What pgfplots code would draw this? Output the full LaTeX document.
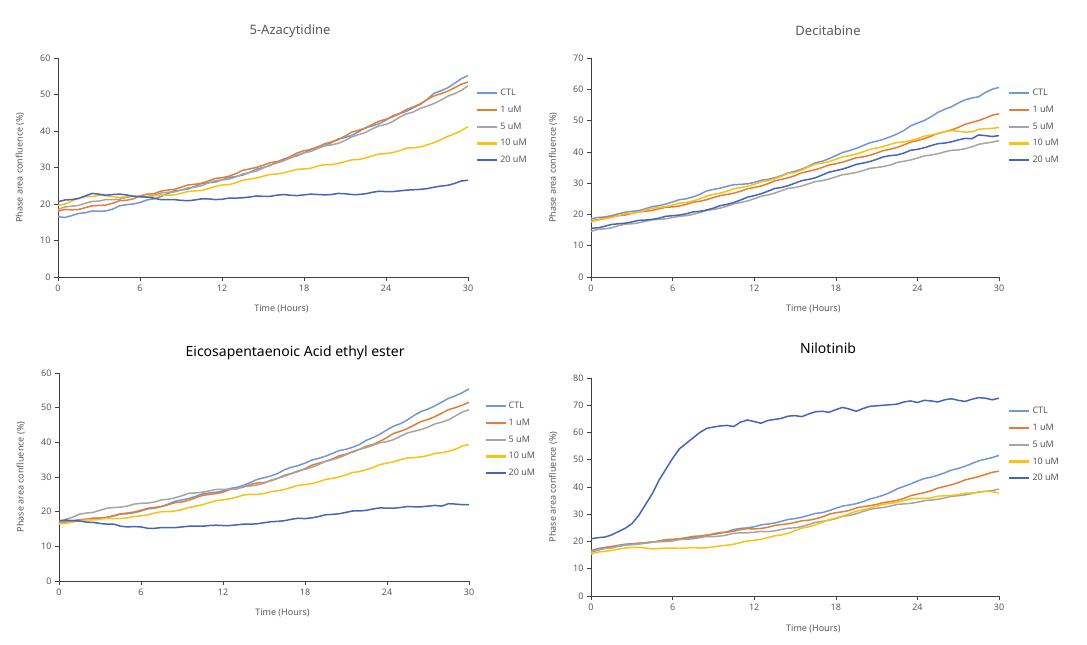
\documentclass[border=0pt]{standalone}
\usepackage{pgfplots}
\pgfplotsset{compat=1.18}
\usepackage{pgfplotstable}
\usepackage{fontspec}
\setmainfont{Noto Sans}
\definecolor{cctl}{RGB}{112,151,214}
\definecolor{cone}{RGB}{230,125,52}
\definecolor{cfive}{RGB}{165,165,165}
\definecolor{cten}{RGB}{250,192,20}
\definecolor{ctwenty}{RGB}{68,101,184}
\definecolor{txtgray}{RGB}{89,89,89}

\pgfplotstableread{
t ctl u1 u5 u10 u20
0 16.5 18.0 18.5 19.6 20.6
0.5 16.3 18.5 19.2 20.0 21.1
1 16.8 18.4 19.4 20.8 21.2
1.5 17.4 18.5 19.6 21.6 21.5
2 17.6 19.0 20.2 22.0 22.2
2.5 18.1 19.5 20.7 22.0 22.9
3 18.0 19.6 20.8 22.4 22.7
3.5 18.1 19.7 21.2 22.3 22.4
4 18.6 20.2 21.2 22.0 22.6
4.5 19.5 20.9 21.3 21.8 22.7
5 19.8 21.0 21.8 22.0 22.5
5.5 20.0 21.4 22.2 22.2 22.1
6 20.4 22.2 22.0 22.0 22.0
6.5 21.1 22.7 22.0 21.9 21.9
7 21.4 22.8 22.4 22.2 21.6
7.5 22.0 23.5 23.0 22.5 21.2
8 22.8 23.8 23.2 22.4 21.2
8.5 23.6 24.0 23.3 22.5 21.2
9 23.8 24.6 23.8 22.9 21.0
9.5 24.1 25.2 24.4 23.4 20.9
10 24.8 25.4 24.6 23.6 21.1
10.5 25.6 25.7 25.0 23.7 21.4
11 25.8 26.3 25.8 24.2 21.4
11.5 26.0 27.0 26.4 24.8 21.2
12 26.6 27.2 26.6 25.2 21.3
12.5 27.3 27.6 26.8 25.3 21.6
13 27.5 28.3 27.4 25.8 21.6
13.5 27.9 29.2 28.2 26.5 21.7
14 28.6 29.6 28.6 26.8 21.9
14.5 29.5 30.0 29.0 27.1 22.2
15 30.0 30.6 29.8 27.6 22.1
15.5 30.5 31.3 30.7 28.1 22.1
16 31.4 31.6 31.2 28.2 22.4
16.5 32.3 32.1 31.8 28.5 22.6
17 32.8 33.0 32.6 29.0 22.4
17.5 33.2 34.0 33.5 29.5 22.3
18 34.0 34.6 34.0 29.6 22.5
18.5 35.0 34.9 34.4 29.8 22.7
19 35.6 35.6 35.2 30.4 22.6
19.5 36.0 36.5 35.9 30.8 22.5
20 36.8 37.0 36.2 30.8 22.6
20.5 37.8 37.6 36.6 31.1 22.9
21 38.2 38.6 37.4 31.6 22.8
21.5 38.8 39.7 38.4 32.1 22.6
22 39.8 40.2 39.0 32.2 22.6
22.5 40.9 40.8 39.6 32.6 22.8
23 41.4 41.8 40.6 33.2 23.2
23.5 42.0 42.7 41.4 33.7 23.5
24 43.0 43.2 41.8 33.8 23.4
24.5 44.2 43.9 42.6 34.1 23.4
25 44.8 44.8 43.8 34.6 23.6
25.5 45.4 45.9 44.7 35.3 23.8
26 46.4 46.6 45.2 35.4 23.9
26.5 47.3 47.4 46.2 35.6 24.0
27 48.6 48.6 46.8 36.2 24.2
27.5 50.3 49.6 47.5 36.8 24.6
28 51.0 50.2 48.4 37.6 24.9
28.5 51.8 50.9 49.5 38.5 25.1
29 53.0 51.8 50.2 39.2 25.6
29.5 54.3 52.8 51.1 40.1 26.3
30 55.2 53.4 52.4 41.2 26.5
}\tabA

\pgfplotstableread{
t ctl u1 u5 u10 u20
0 18.6 18.0 14.6 17.6 15.6
0.5 19.0 18.3 15.2 18.2 15.7
1 19.2 18.8 15.4 18.6 16.2
1.5 19.6 19.4 15.7 19.0 16.8
2 20.2 19.6 16.4 19.6 17.0
2.5 20.7 19.8 16.9 20.2 17.2
3 21.0 20.3 17.0 20.4 17.6
3.5 21.2 20.8 17.3 20.7 18.1
4 21.8 21.0 17.8 21.4 18.2
4.5 22.5 21.3 18.3 22.0 18.4
5 22.8 21.8 18.4 22.2 18.8
5.5 23.3 22.3 18.6 22.5 19.4
6 24.0 22.4 19.0 23.0 19.6
6.5 24.7 22.7 19.4 23.6 19.8
7 25.0 23.2 19.6 23.8 20.2
7.5 25.6 23.9 20.0 24.3 20.8
8 26.4 24.2 20.6 25.0 21.0
8.5 27.5 24.7 21.3 25.9 21.4
9 28.0 25.4 21.6 26.4 22.0
9.5 28.4 26.0 22.0 26.8 22.8
10 29.0 26.4 22.6 27.4 23.2
10.5 29.5 26.8 23.4 28.2 23.8
11 29.6 27.4 23.8 28.6 24.6
11.5 29.8 28.2 24.3 29.0 25.5
12 30.2 28.6 25.0 29.6 26.0
12.5 30.9 29.1 25.8 30.4 26.6
13 31.2 29.8 26.2 30.8 27.4
13.5 31.7 30.7 26.8 31.4 28.3
14 32.4 31.2 27.6 32.2 28.6
14.5 33.3 31.7 28.3 33.1 29.2
15 33.8 32.4 28.6 33.4 30.0
15.5 34.5 33.3 29.1 34.2 30.8
16 35.4 33.8 29.8 35.2 31.2
16.5 36.5 34.3 30.5 36.1 31.7
17 37.0 35.0 30.8 36.4 32.6
17.5 37.8 35.8 31.3 36.9 33.5
18 38.8 36.2 32.0 37.6 34.0
18.5 39.8 36.7 32.7 38.4 34.5
19 40.4 37.4 33.0 38.8 35.2
19.5 41.1 38.1 33.4 39.3 36.0
20 42.0 38.4 34.0 40.0 36.4
20.5 42.9 38.9 34.7 40.8 36.9
21 43.4 39.6 35.0 41.2 37.6
21.5 44.0 40.4 35.3 41.7 38.4
22 44.8 40.8 35.8 42.4 38.8
22.5 45.7 41.4 36.6 43.0 39.0
23 46.8 42.2 37.0 43.2 39.6
23.5 48.3 43.1 37.4 43.6 40.5
24 49.2 43.6 38.0 44.2 40.8
24.5 50.0 44.2 38.7 45.0 41.3
25 51.2 45.0 39.0 45.4 42.0
25.5 52.6 45.9 39.4 45.8 42.6
26 53.6 46.4 40.0 46.4 42.8
26.5 54.4 47.0 40.5 46.8 43.2
27 55.6 47.8 40.6 46.6 43.8
27.5 56.6 48.8 41.0 46.3 44.3
28 57.2 49.4 41.6 46.4 44.2
28.5 57.6 50.0 42.4 47.2 45.4
29 59.0 50.8 42.8 47.4 45.2
29.5 60.0 51.7 43.1 47.5 44.9
30 60.6 52.2 43.6 47.8 45.2
}\tabB

\pgfplotstableread{
t ctl u1 u5 u10 u20
0 17.0 16.8 16.5 16.5 17.4
0.5 17.0 17.3 17.8 16.6 17.6
1 17.4 17.4 18.4 17.0 17.4
1.5 17.7 17.5 19.3 17.4 17.3
2 17.8 17.8 19.6 17.6 17.0
2.5 18.1 18.1 19.8 17.6 16.9
3 18.2 18.0 20.4 17.8 16.6
3.5 18.4 18.3 21.0 18.1 16.4
4 18.8 18.8 21.2 18.0 16.4
4.5 19.3 19.4 21.3 18.0 15.8
5 19.4 19.6 21.6 18.2 15.6
5.5 19.7 19.9 22.2 18.6 15.7
6 20.2 20.4 22.4 18.8 15.6
6.5 20.8 21.0 22.5 19.1 15.2
7 21.0 21.2 22.8 19.6 15.2
7.5 21.5 21.5 23.4 20.0 15.4
8 22.2 22.0 23.6 20.0 15.4
8.5 23.0 22.6 24.0 20.2 15.4
9 23.4 22.8 24.6 20.6 15.6
9.5 23.8 23.3 25.3 21.2 15.8
10 24.4 24.0 25.4 21.6 15.8
10.5 25.1 24.7 25.6 22.0 15.8
11 25.4 25.0 26.0 22.6 16.0
11.5 25.6 25.2 26.4 23.2 16.1
12 26.0 25.6 26.4 23.4 16.0
12.5 26.7 26.4 26.4 23.7 16.0
13 27.0 26.6 26.6 24.2 16.2
13.5 27.6 27.1 27.3 24.8 16.4
14 28.4 27.8 27.4 25.0 16.4
14.5 29.3 28.3 27.7 25.0 16.5
15 29.8 28.4 28.2 25.2 16.8
15.5 30.3 28.9 29.1 25.8 17.1
16 31.0 29.6 29.6 26.0 17.2
16.5 32.1 30.5 30.2 26.4 17.4
17 32.8 31.0 31.0 27.0 17.8
17.5 33.3 31.6 31.8 27.6 18.1
18 34.0 32.4 32.2 27.8 18.0
18.5 34.9 33.4 32.8 28.1 18.2
19 35.4 34.0 33.6 28.6 18.6
19.5 36.0 34.5 34.5 29.3 19.1
20 36.8 35.2 35.0 29.6 19.2
20.5 37.6 36.1 35.6 30.0 19.4
21 38.0 36.6 36.4 30.6 19.8
21.5 38.6 37.2 37.4 31.3 20.2
22 39.4 38.0 38.0 31.6 20.2
22.5 40.6 38.9 38.5 32.1 20.4
23 41.4 39.4 39.2 32.8 20.8
23.5 42.4 40.3 39.9 33.6 21.1
24 43.6 41.4 40.2 34.0 21.0
24.5 44.7 42.6 40.8 34.4 21.0
25 45.4 43.2 41.8 35.0 21.2
25.5 46.5 44.0 42.7 35.5 21.5
26 47.8 45.0 43.2 35.6 21.4
26.5 48.9 46.0 43.7 35.8 21.4
27 49.6 46.6 44.4 36.2 21.6
27.5 50.5 47.4 45.3 36.8 21.8
28 51.6 48.4 45.8 37.0 21.6
28.5 52.7 49.4 46.5 37.4 22.3
29 53.4 50.0 47.6 38.0 22.2
29.5 54.3 50.7 48.7 38.9 22.0
30 55.4 51.6 49.4 39.4 22.0
}\tabC

\pgfplotstableread{
t ctl u1 u5 u10
0 16.6 16.4 16.0 15.4
0.5 17.4 16.8 16.9 16.1
1 17.8 17.6 17.4 16.4
1.5 18.1 18.2 17.6 16.7
2 18.6 18.4 18.2 17.2
2.5 19.0 18.6 18.7 17.6
3 19.2 19.0 18.8 17.8
3.5 19.3 19.4 19.0 17.9
4 19.6 19.4 19.4 17.6
4.5 19.9 19.7 19.8 17.3
5 20.0 20.2 20.0 17.4
5.5 20.2 20.7 20.0 17.6
6 20.6 20.8 20.2 17.6
6.5 21.0 21.0 20.7 17.5
7 21.2 21.4 20.8 17.6
7.5 21.4 21.9 21.0 17.8
8 21.8 22.0 21.4 17.6
8.5 22.3 22.3 21.8 17.7
9 22.6 22.8 21.8 18.0
9.5 23.0 23.3 22.0 18.4
10 23.6 23.4 22.4 18.6
10.5 24.4 23.8 23.0 19.0
11 24.8 24.4 23.2 19.6
11.5 25.0 24.7 23.2 20.2
12 25.4 24.6 23.4 20.4
12.5 26.1 24.8 23.7 20.8
13 26.4 25.2 23.6 21.4
13.5 26.8 25.9 23.9 22.1
14 27.4 26.2 24.4 22.4
14.5 28.1 26.5 24.9 23.0
15 28.4 27.0 25.0 24.0
15.5 28.9 27.6 25.5 24.9
16 29.6 27.8 26.2 25.4
16.5 30.3 28.3 27.0 26.1
17 30.6 29.0 27.4 27.0
17.5 31.3 30.0 27.8 28.0
18 32.2 30.6 28.4 28.6
18.5 33.0 30.9 29.2 29.3
19 33.4 31.4 29.6 30.2
19.5 33.9 32.3 30.2 31.1
20 34.6 32.8 31.0 31.6
20.5 35.6 33.1 31.8 32.2
21 36.2 33.6 32.2 33.0
21.5 37.0 34.3 32.5 33.7
22 38.0 34.6 33.0 34.0
22.5 39.3 35.1 33.6 34.4
23 40.2 35.8 33.8 35.0
23.5 41.1 36.8 34.0 35.6
24 42.2 37.4 34.4 35.8
24.5 43.1 37.9 35.0 35.8
25 43.6 38.6 35.2 36.0
25.5 44.3 39.6 35.5 36.6
26 45.2 40.2 36.0 36.8
26.5 46.2 40.8 36.6 36.9
27 46.8 41.6 36.8 37.2
27.5 47.6 42.6 37.1 37.7
28 48.6 43.2 37.6 37.8
28.5 49.6 43.8 38.2 38.0
29 50.2 44.6 38.4 38.4
29.5 50.8 45.4 38.7 38.3
30 51.6 45.8 39.2 37.8
}\tabD

\pgfplotstableread{
t u20
0 21.0
0.5 21.4
1 21.6
1.5 22.4
2 23.6
2.5 24.8
3 26.5
3.5 29.5
4 33.5
4.5 37.5
5 42.5
5.5 46.5
6 50.5
6.5 54.0
7 56.0
7.5 58.0
8 60.0
8.5 61.5
9 62.0
9.5 62.4
10 62.6
10.5 62.2
11 63.8
11.5 64.6
12 64.0
12.5 63.4
13 64.4
13.5 64.8
14 65.2
14.5 66.0
15 66.2
15.5 65.8
16 66.8
16.5 67.6
17 67.8
17.5 67.4
18 68.4
18.5 69.2
19 68.6
19.5 67.8
20 68.8
20.5 69.6
21 69.8
21.5 70.0
22 70.2
22.5 70.4
23 71.2
23.5 71.6
24 71.0
24.5 71.8
25 71.6
25.5 71.2
26 72.0
26.5 72.4
27 71.8
27.5 71.4
28 72.2
28.5 72.8
29 72.6
29.5 72.0
30 72.6
}\tabDtw

\pgfplotsset{
  every axis title shift=0pt,
  panel/.style={
    scale only axis,
    xmin=0, xmax=30, ymin=0,
    xtick={0,6,...,30},
    axis x line*=bottom, axis y line*=left,
    axis line style={draw=black!75, line width=0.8pt, -},
    tick style={draw=black!75, line width=0.6pt},
    tick align=outside, major tick length=4pt,
    ticklabel style={font=\fontsize{9}{10}\selectfont, text=txtgray},
    /pgf/number format/assume math mode=true,
    xlabel={Time (Hours)},
    ylabel={Phase area confluence (\%)},
    label style={font=\fontsize{9}{10}\selectfont, text=txtgray},
    every axis plot/.append style={line width=1.5pt, no marks},
    legend cell align=left,
    legend image code/.code={\draw[#1, line width=2.2pt] (0pt,0pt) -- (20pt,0pt);},
    clip=false,
  }
}

\begin{document}
\begin{tikzpicture}
\useasboundingbox (0,0) rectangle (1087pt,645pt);

% Panel 1
\begin{axis}[panel, at={(58pt,368pt)}, anchor=south west, width=410pt, height=219pt,
  ymax=60, ytick={0,10,...,60},
  title={5-Azacytidine},
  title style={at={(axis description cs:0.566,1.125)}, anchor=center, font=\fontsize{13}{14}\selectfont, text=txtgray},
  xlabel style={at={(axis description cs:0.545,-0.146)}, anchor=center},
  ylabel style={at={(axis description cs:-0.093,0.5)}, anchor=center},
  legend style={at={(axis description cs:1.012,0.877)}, anchor=north west, draw=none, fill=none,
    font=\fontsize{9}{10}\selectfont, text=txtgray, row sep=4.8pt}]
\addplot[cctl] table[x=t,y=ctl]{\tabA};
\addplot[cone] table[x=t,y=u1]{\tabA};
\addplot[cfive] table[x=t,y=u5]{\tabA};
\addplot[cten] table[x=t,y=u10]{\tabA};
\addplot[ctwenty] table[x=t,y=u20]{\tabA};
\legend{CTL,1 uM,5 uM,10 uM,20 uM}
\end{axis}

% Panel 2
\begin{axis}[panel, at={(591pt,368pt)}, anchor=south west, width=408pt, height=219pt,
  ymax=70, ytick={0,10,...,70},
  title={Decitabine},
  title style={at={(axis description cs:0.581,1.125)}, anchor=center, font=\fontsize{13}{14}\selectfont, text=txtgray},
  xlabel style={at={(axis description cs:0.545,-0.146)}, anchor=center},
  ylabel style={at={(axis description cs:-0.093,0.5)}, anchor=center},
  legend style={at={(axis description cs:1.015,0.877)}, anchor=north west, draw=none, fill=none,
    font=\fontsize{9}{10}\selectfont, text=txtgray, row sep=4.8pt}]
\addplot[cctl] table[x=t,y=ctl]{\tabB};
\addplot[cone] table[x=t,y=u1]{\tabB};
\addplot[cfive] table[x=t,y=u5]{\tabB};
\addplot[cten] table[x=t,y=u10]{\tabB};
\addplot[ctwenty] table[x=t,y=u20]{\tabB};
\legend{CTL,1 uM,5 uM,10 uM,20 uM}
\end{axis}

% Panel 3
\begin{axis}[panel, at={(59pt,64pt)}, anchor=south west, width=410pt, height=208pt,
  ymax=60, ytick={0,10,...,60},
  title={Eicosapentaenoic Acid ethyl ester},
  title style={at={(axis description cs:0.576,1.096)}, anchor=center, font=\fontsize{14}{15}\selectfont, text=black},
  xlabel style={at={(axis description cs:0.545,-0.154)}, anchor=center},
  ylabel style={at={(axis description cs:-0.093,0.5)}, anchor=center},
  legend style={at={(axis description cs:1.03,0.88)}, anchor=north west, draw=none, fill=none,
    font=\fontsize{9}{10}\selectfont, text=txtgray, row sep=4.8pt}]
\addplot[cctl] table[x=t,y=ctl]{\tabC};
\addplot[cone] table[x=t,y=u1]{\tabC};
\addplot[cfive] table[x=t,y=u5]{\tabC};
\addplot[cten] table[x=t,y=u10]{\tabC};
\addplot[ctwenty] table[x=t,y=u20]{\tabC};
\legend{CTL,1 uM,5 uM,10 uM,20 uM}
\end{axis}

% Panel 4
\begin{axis}[panel, at={(591pt,49pt)}, anchor=south west, width=408pt, height=218pt,
  ymax=80, ytick={0,10,...,80},
  title={Nilotinib},
  title style={at={(axis description cs:0.581,1.138)}, anchor=center, font=\fontsize{14}{15}\selectfont, text=black},
  xlabel style={at={(axis description cs:0.545,-0.151)}, anchor=center},
  ylabel style={at={(axis description cs:-0.093,0.5)}, anchor=center},
  legend style={at={(axis description cs:1.015,0.885)}, anchor=north west, draw=none, fill=none,
    font=\fontsize{9}{10}\selectfont, text=txtgray, row sep=4.8pt}]
\addplot[cctl] table[x=t,y=ctl]{\tabD};
\addplot[cone] table[x=t,y=u1]{\tabD};
\addplot[cfive] table[x=t,y=u5]{\tabD};
\addplot[cten] table[x=t,y=u10]{\tabD};
\addplot[ctwenty] table[x=t,y=u20]{\tabDtw};
\legend{CTL,1 uM,5 uM,10 uM,20 uM}
\end{axis}
\end{tikzpicture}
\end{document}
